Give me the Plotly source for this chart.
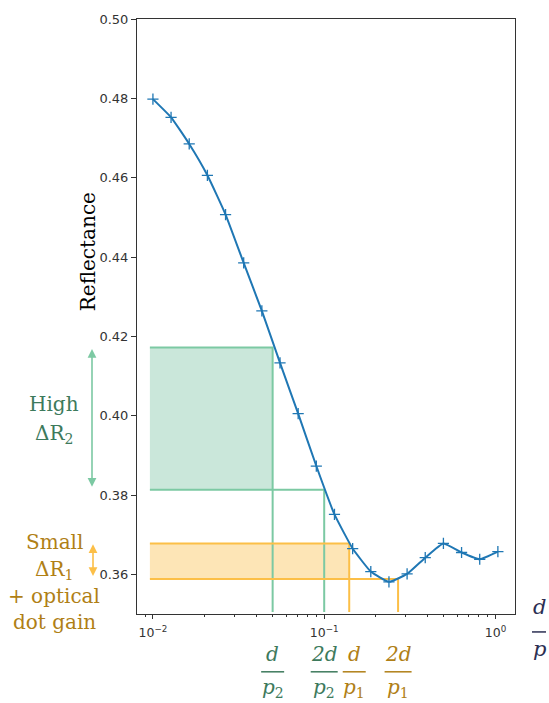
import math
import plotly.graph_objects as go

# ---------------- data ----------------
x_ratio = [0.0100, 0.01276, 0.01629, 0.02080, 0.02655, 0.03388, 0.04325, 0.05521,
           0.07047, 0.08995, 0.1148, 0.1466, 0.1871, 0.2388, 0.3048, 0.3890,
           0.4966, 0.6339, 0.8091, 1.0328]
reflectance = [0.4798, 0.4752, 0.4685, 0.4606, 0.4507, 0.4385, 0.4264, 0.4133,
               0.4005, 0.3873, 0.3751, 0.3665, 0.3607, 0.3581, 0.3601, 0.3642,
               0.3678, 0.3655, 0.3638, 0.3657]

x_left = 0.0096          # left end of the highlighted bands
d_p2, two_d_p2 = 0.05, 0.10
d_p1, two_d_p1 = 0.14, 0.27
r_d_p2, r_2d_p2 = 0.4172, 0.3813
r_d_p1, r_2d_p1 = 0.3678, 0.3588
y_floor = 0.3505

y_ticks = [0.36, 0.38, 0.40, 0.42, 0.44, 0.46, 0.48, 0.50]
x_ticks = [0.01, 0.1, 1.0]
x_tick_text = ["10<sup>−2</sup>", "10<sup>−1</sup>", "10<sup>0</sup>"]

# ---------------- style ----------------
BLUE = "#1f77b4"
G_LINE, G_FILL, G_TEXT = "#7cc9a3", "#cae7da", "#3d7a5c"
O_LINE, O_FILL, O_TEXT = "#fcbf47", "#fde5b6", "#b07f16"
NAVY = "#2b2e52"
SERIF = "DejaVu Serif"

W, H = 549, 703
ML, MR, MT, MB = 137, 34, 17, 89
XR = [-2.093, 0.114]
YR = [0.35, 0.50]
PW, PH = W - ML - MR, H - MT - MB


def px_x(px):               # page pixel -> paper
    return (px - ML) / PW


def px_y(py):
    return (H - MB - py) / PH


def paper_of_x(v):
    return (math.log10(v) - XR[0]) / (XR[1] - XR[0])


fig = go.Figure()

# filled bands
fig.add_trace(go.Scatter(
    x=[x_left, d_p2, d_p2, x_left, x_left],
    y=[r_2d_p2, r_2d_p2, r_d_p2, r_d_p2, r_2d_p2],
    fill="toself", fillcolor=G_FILL, mode="none", hoverinfo="skip"))
fig.add_trace(go.Scatter(
    x=[x_left, d_p1, d_p1, x_left, x_left],
    y=[r_2d_p1, r_2d_p1, r_d_p1, r_d_p1, r_2d_p1],
    fill="toself", fillcolor=O_FILL, mode="none", hoverinfo="skip"))

# guide lines
fig.add_trace(go.Scatter(
    x=[x_left, d_p2, d_p2, None, x_left, two_d_p2, two_d_p2],
    y=[r_d_p2, r_d_p2, y_floor, None, r_2d_p2, r_2d_p2, y_floor],
    mode="lines", line=dict(color=G_LINE, width=2), hoverinfo="skip"))
fig.add_trace(go.Scatter(
    x=[x_left, d_p1, d_p1, None, x_left, two_d_p1, two_d_p1],
    y=[r_d_p1, r_d_p1, y_floor, None, r_2d_p1, r_2d_p1, y_floor],
    mode="lines", line=dict(color=O_LINE, width=2), hoverinfo="skip"))

# reflectance curve
fig.add_trace(go.Scatter(
    x=x_ratio, y=reflectance, mode="lines+markers",
    line=dict(color=BLUE, width=2, shape="spline", smoothing=0.4),
    marker=dict(symbol="cross-thin", size=8, color=BLUE,
                line=dict(color=BLUE, width=1.3))))

minor_vals = [m * 10 ** e for e in (-3, -2, -1, 0) for m in range(2, 10)]
minor_vals = [v for v in minor_vals if XR[0] < math.log10(v) < XR[1]]

fig.update_xaxes(
    type="log", range=XR, tickvals=x_ticks, ticktext=x_tick_text,
    ticks="outside", ticklen=4, tickwidth=1, tickcolor="#333",
    showline=True, linecolor="#333", linewidth=1, mirror=True,
    showgrid=False, zeroline=False, ticklabelstandoff=3,
    tickfont=dict(family="DejaVu Sans", size=12.5, color="#333"),
    minor=dict(tickvals=minor_vals, ticks="outside", ticklen=2,
               tickwidth=1, tickcolor="#333", showgrid=False))
fig.update_yaxes(
    range=YR, tickvals=y_ticks, tickformat=".2f",
    ticks="outside", ticklen=5, tickwidth=1, tickcolor="#333",
    showline=True, linecolor="#333", linewidth=1, mirror=True,
    showgrid=False, zeroline=False,
    tickfont=dict(family="DejaVu Sans", size=13, color="#333"))

ann = []
shapes = []

# y-axis title
ann.append(dict(text="Reflectance", xref="paper", yref="paper",
                x=px_x(88), y=px_y(251), textangle=-90, showarrow=False,
                font=dict(family=SERIF, size=20, color="#000"),
                xanchor="center", yanchor="middle"))


def left_text(txt, py, color):
    ann.append(dict(text=txt, xref="paper", yref="paper", x=px_x(54), y=px_y(py),
                    showarrow=False, xanchor="center", yanchor="middle",
                    font=dict(family=SERIF, size=20, color=color)))


left_text("High", 403, G_TEXT)
left_text("ΔR<sub>2</sub>", 433, G_TEXT)
left_text("Small", 542, O_TEXT)
left_text("ΔR<sub>1</sub>", 570, O_TEXT)
left_text("+ optical", 596, O_TEXT)
left_text("dot gain", 622, O_TEXT)

# double arrows
ann.append(dict(text="", xref="paper", yref="y", x=px_x(92), y=r_d_p2 - 0.0004,
                ax=0, ayref="y", ay=r_2d_p2 + 0.0004, showarrow=True,
                arrowside="end+start", arrowhead=2, arrowsize=1.1,
                arrowwidth=1.6, arrowcolor=G_LINE, standoff=0, startstandoff=0))
ann.append(dict(text="", xref="paper", yref="y", x=px_x(93), y=r_d_p1 - 0.0002,
                ax=0, ayref="y", ay=r_2d_p1 + 0.0004, showarrow=True,
                arrowside="end+start", arrowhead=2, arrowsize=1.1,
                arrowwidth=1.6, arrowcolor=O_LINE, standoff=0, startstandoff=0))


def fraction(val, num, den, color, half_w, shift=0, top=654, bar=672, bottom=688):
    xc = paper_of_x(val) + shift / PW
    ann.append(dict(text=f"<i>{num}</i>", xref="paper", yref="paper", x=xc, y=px_y(top),
                    showarrow=False, xanchor="center", yanchor="middle",
                    font=dict(family=SERIF, size=20, color=color)))
    ann.append(dict(text=den, xref="paper", yref="paper", x=xc, y=px_y(bottom),
                    showarrow=False, xanchor="center", yanchor="middle",
                    font=dict(family=SERIF, size=20, color=color)))
    shapes.append(dict(type="line", xref="paper", yref="paper",
                       x0=xc - half_w / PW, x1=xc + half_w / PW,
                       y0=px_y(bar), y1=px_y(bar),
                       line=dict(color=color, width=1.5)))


fraction(d_p2, "d", "<i>p</i><sub>2</sub>", G_TEXT, 11.5)
fraction(two_d_p2, "2d", "<i>p</i><sub>2</sub>", G_TEXT, 13.5)
fraction(d_p1, "d", "<i>p</i><sub>1</sub>", O_TEXT, 11.5, shift=5)
fraction(two_d_p1, "2d", "<i>p</i><sub>1</sub>", O_TEXT, 13.5)

# d/p axis label on the right
xc = px_x(539)
ann.append(dict(text="<i>d</i>", xref="paper", yref="paper", x=xc, y=px_y(607),
                showarrow=False, xanchor="center", yanchor="middle",
                font=dict(family=SERIF, size=21, color=NAVY)))
ann.append(dict(text="<i>p</i>", xref="paper", yref="paper", x=xc, y=px_y(649),
                showarrow=False, xanchor="center", yanchor="middle",
                font=dict(family=SERIF, size=21, color=NAVY)))
shapes.append(dict(type="line", xref="paper", yref="paper",
                   x0=xc - 7 / PW, x1=xc + 7 / PW, y0=px_y(632), y1=px_y(632),
                   line=dict(color=NAVY, width=1.5)))

fig.update_layout(
    width=W, height=H, margin=dict(l=ML, r=MR, t=MT, b=MB),
    paper_bgcolor="white", plot_bgcolor="white", showlegend=False,
    hovermode=False, annotations=ann, shapes=shapes)

fig.write_html(
    "out.html",
    config={"displayModeBar": False, "staticPlot": True},
    post_script="document.body.style.margin='0';document.body.style.overflow='hidden';")
